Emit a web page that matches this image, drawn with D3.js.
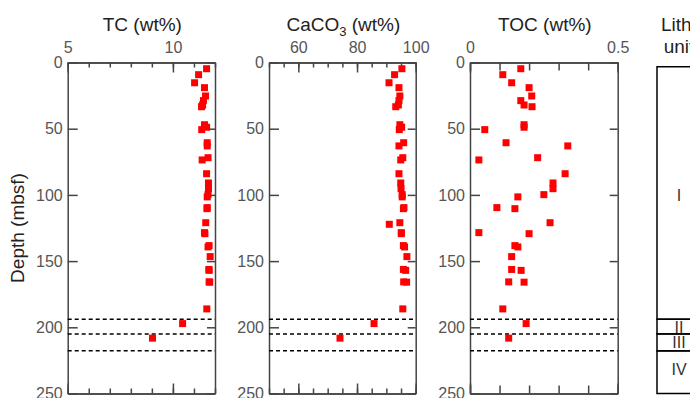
<!DOCTYPE html>
<html>
<head>
<meta charset="utf-8">
<script src="https://d3js.org/d3.v7.min.js"></script>
<style>
   body { margin: 0; background: #fff; }
   svg text { font-family: "Liberation Sans", Arial, sans-serif; }
   .axis path, .axis line { stroke: #444; stroke-width: 1.5; }
   .axis text { fill: #555; font-size: 16px; font-family: "Liberation Sans", Arial, sans-serif; }
</style>
</head>
<body>
<script>
// sample depths (mbsf) for TC and TOC
const depth = [4.7, 9.2, 15.3, 19.0, 25.3, 28.8, 32.1, 33.4, 47.0, 48.9, 50.7, 60.6, 63.0, 71.9, 73.6, 84.0, 91.0, 95.3, 99.8, 101.5,
               109.6, 110.4, 121.0, 128.5, 129.3, 138.3, 139.3, 146.6, 156.3, 157.0, 165.7, 165.9, 186.1, 197.2, 208.2];
const tc = [11.60, 11.22, 11.03, 11.50, 11.55, 11.45, 11.41, 11.36, 11.50, 11.60, 11.37, 11.63, 11.63, 11.67, 11.39, 11.60, 11.69, 11.69, 11.67, 11.63,
            11.63, 11.62, 11.56, 11.50, 11.52, 11.72, 11.67, 11.77, 11.71, 11.72, 11.72, 11.75, 11.61, 10.46, 9.03];
const toc = [0.172, 0.111, 0.141, 0.200, 0.209, 0.172, 0.183, 0.210, 0.183, 0.183, 0.050, 0.122, 0.331, 0.229, 0.030, 0.322, 0.281, 0.281, 0.250, 0.162,
             0.091, 0.152, 0.271, 0.030, 0.200, 0.152, 0.162, 0.141, 0.141, 0.173, 0.131, 0.183, 0.111, 0.190, 0.131];
// CaCO3 has one extra sample near 122 mbsf
const caco3Depth = [4.7, 9.2, 15.3, 19.0, 25.3, 28.8, 32.1, 33.4, 47.0, 48.9, 50.7, 60.6, 63.0, 71.9, 73.6, 84.0, 91.0, 95.3, 99.8, 101.5,
                    109.6, 110.4, 121.0, 122.2, 128.5, 129.3, 138.3, 139.3, 146.6, 156.3, 157.0, 165.7, 165.9, 186.1, 197.2, 208.2];
const caco3 = [95.3, 92.8, 90.9, 94.3, 94.6, 94.3, 94.1, 93.2, 94.6, 95.2, 94.4, 95.9, 94.3, 95.6, 94.9, 94.3, 94.9, 95.0, 95.4, 95.4,
               96.0, 95.8, 94.6, 91.0, 95.1, 95.1, 95.8, 96.2, 97.0, 95.8, 96.6, 95.9, 96.9, 95.6, 85.8, 74.2];
// unit boundaries (dashed lines) and lithologic units
const boundaries = [193.9, 205.0, 217.8];
const unitNames = ['I', 'II', 'III', 'IV'];
const unitTops = [3.2, 193.9, 205.0, 217.8];
const unitBases = [193.9, 205.0, 217.8, 250];
const unitLabelDepths = [100, 199.7, 211.6, 232];
const depthTicks = [0, 50, 100, 150, 200, 250];

const w = 690;
const h = 398;
const yTop = 62.5;
const yBottom = 393.5;

const svg = d3.select('body')
              .append('svg')
              .attr('width', w)
              .attr('height', h);

const yScale = d3.scaleLinear()
                 .domain([0, 250])
                 .range([yTop, yBottom]);

const panels = [
   {title: 'TC', left: 67.7, right: 215, domain: [5, 12], minor: d3.range(5, 12.5, 1), major: [5, 10], minorLen: 5, vals: tc, dep: depth},
   {title: 'CaCO', left: 269, right: 415.7, domain: [50, 100], minor: d3.range(50, 101, 5), major: [60, 80, 100], minorLen: 5, vals: caco3, dep: caco3Depth},
   {title: 'TOC', left: 470, right: 617.7, domain: [0, 0.5], minor: [0, 0.1, 0.2, 0.3, 0.4, 0.5], major: [0, 0.5], minorLen: 8, vals: toc, dep: depth}
];

panels.forEach(p => {
   const xScale = d3.scaleLinear()
                    .domain(p.domain)
                    .range([p.left, p.right]);
   const g = svg.append('g');

   //top axis: minor then major ticks (inward)
   g.append('g').attr('class', 'axis')
    .attr('transform', 'translate(0,' + yTop + ')')
    .call(d3.axisTop(xScale).tickValues(p.minor).tickSize(-p.minorLen).tickSizeOuter(0).tickFormat(''));
   g.append('g').attr('class', 'axis')
    .attr('transform', 'translate(0,' + yTop + ')')
    .call(d3.axisTop(xScale).tickValues(p.major).tickSize(-10).tickSizeOuter(0).tickPadding(9.5).tickFormat(d3.format('')));
   //bottom axis
   g.append('g').attr('class', 'axis')
    .attr('transform', 'translate(0,' + yBottom + ')')
    .call(d3.axisBottom(xScale).tickValues(p.minor).tickSize(-p.minorLen).tickSizeOuter(0).tickFormat(''));
   g.append('g').attr('class', 'axis')
    .attr('transform', 'translate(0,' + yBottom + ')')
    .call(d3.axisBottom(xScale).tickValues(p.major).tickSize(-10).tickSizeOuter(0).tickFormat(''));
   //left and right depth axes
   g.append('g').attr('class', 'axis')
    .attr('transform', 'translate(' + p.left + ',0)')
    .call(d3.axisLeft(yScale).tickValues(depthTicks).tickSize(-10).tickSizeOuter(0).tickPadding(5));
   g.append('g').attr('class', 'axis')
    .attr('transform', 'translate(' + p.right + ',0)')
    .call(d3.axisRight(yScale).tickValues(depthTicks).tickSize(-8).tickSizeOuter(0).tickFormat(''));

   //dashed unit boundaries
   g.selectAll('line.bound')
    .data(boundaries)
    .enter()
    .append('line')
    .attr('class', 'bound')
    .attr('x1', p.left)
    .attr('x2', p.right)
    .attr('y1', d => yScale(d))
    .attr('y2', d => yScale(d))
    .attr('stroke', '#000')
    .attr('stroke-width', 1.5)
    .attr('stroke-dasharray', '4,3');

   //data points
   g.selectAll('rect.pt')
    .data(p.vals)
    .enter()
    .append('rect')
    .attr('class', 'pt')
    .attr('x', d => xScale(d) - 3.5)
    .attr('y', (d, i) => yScale(p.dep[i]) - 3.5)
    .attr('width', 7)
    .attr('height', 7)
    .attr('fill', '#ff0000');

   //title
   const t = svg.append('text')
                .attr('x', (p.left + p.right) / 2 + 1)
                .attr('y', 31)
                .attr('text-anchor', 'middle')
                .attr('fill', '#222')
                .style('font-size', '19px');
   if (p.title === 'CaCO') {
      t.append('tspan').text('CaCO');
      t.append('tspan').attr('dy', 5).style('font-size', '13px').text('3');
      t.append('tspan').attr('dy', -5).text(' (wt%)');
   } else {
      t.text(p.title + ' (wt%)');
   }
});

//depth label
svg.append('text')
   .attr('transform', 'translate(24,' + ((yTop + yBottom) / 2) + ') rotate(-90)')
   .attr('text-anchor', 'middle')
   .attr('fill', '#222')
   .style('font-size', '19px')
   .text('Depth (mbsf)');

//lithologic units column
const lithLeft = 657;
const lithRight = 701;
svg.selectAll('rect.unit')
   .data(unitNames)
   .enter()
   .append('rect')
   .attr('class', 'unit')
   .attr('x', lithLeft)
   .attr('y', (d, i) => yScale(unitTops[i]))
   .attr('width', lithRight - lithLeft)
   .attr('height', (d, i) => yScale(unitBases[i]) - yScale(unitTops[i]))
   .attr('fill', 'none')
   .attr('stroke', '#000')
   .attr('stroke-width', 1.5);
svg.selectAll('text.unit')
   .data(unitNames)
   .enter()
   .append('text')
   .attr('class', 'unit')
   .attr('x', (lithLeft + lithRight) / 2)
   .attr('y', (d, i) => yScale(unitLabelDepths[i]))
   .attr('dy', '0.36em')
   .attr('text-anchor', 'middle')
   .attr('fill', '#333')
   .style('font-size', '16px')
   .text(d => d);
svg.append('text')
   .attr('x', (lithLeft + lithRight) / 2)
   .attr('y', 31)
   .attr('text-anchor', 'middle')
   .attr('fill', '#222')
   .style('font-size', '19px')
   .text('Lith.');
svg.append('text')
   .attr('x', (lithLeft + lithRight) / 2)
   .attr('y', 53)
   .attr('text-anchor', 'middle')
   .attr('fill', '#222')
   .style('font-size', '19px')
   .text('unit');
</script>
</body>
</html>
